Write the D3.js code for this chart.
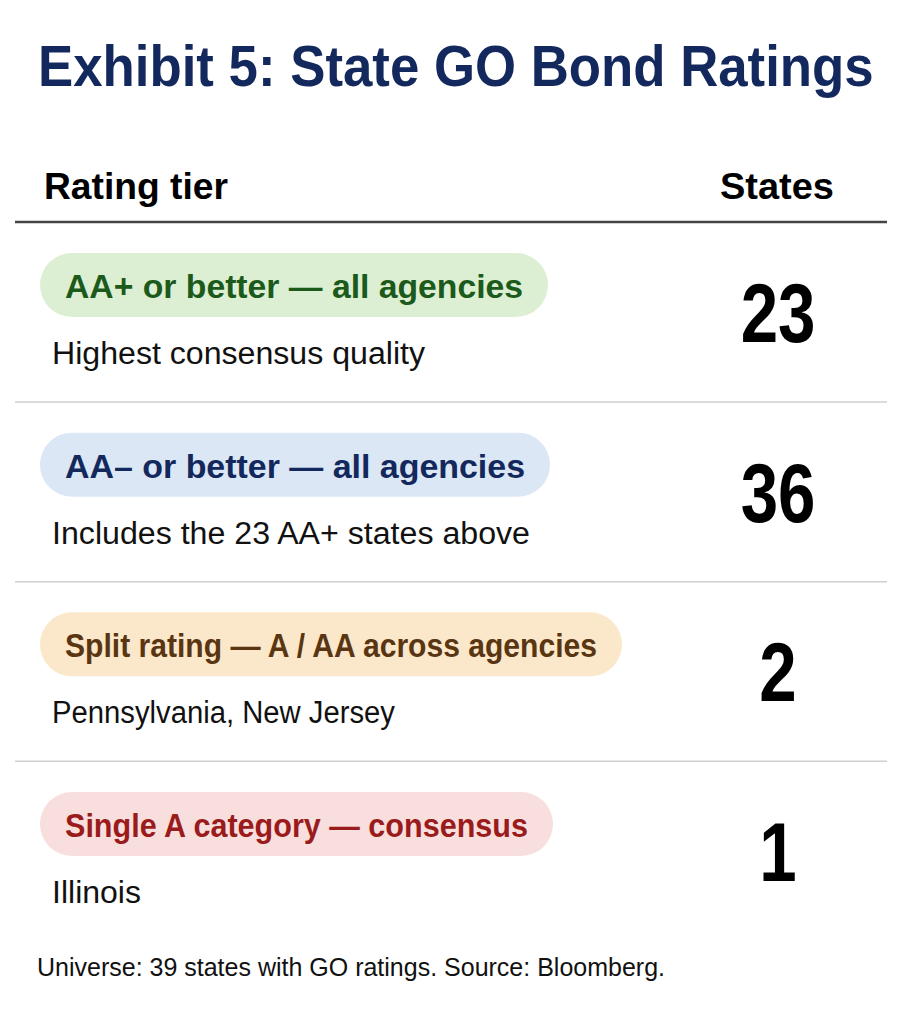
<!DOCTYPE html>
<html>
<head>
<meta charset="utf-8">
<script src="https://cdn.jsdelivr.net/npm/d3@7"></script>
<style>
  html, body { margin: 0; padding: 0; background: #fff; }
  svg { display: block; font-family: "Liberation Sans", Arial, sans-serif; }
</style>
</head>
<body>
<svg id="chart" width="901" height="1024"></svg>
<script>
// data
const tiers = [
    "AA+ or better \u2014 all agencies",
    "AA\u2013 or better \u2014 all agencies",
    "Split rating \u2014 A / AA across agencies",
    "Single A category \u2014 consensus"
];
const notes = [
    "Highest consensus quality",
    "Includes the 23 AA+ states above",
    "Pennsylvania, New Jersey",
    "Illinois"
];
const counts = [23, 36, 2, 1];
const headers = ["Rating tier", "States"];
const title = "Exhibit 5: State GO Bond Ratings";
const footnote = "Universe: 39 states with GO ratings. Source: Bloomberg.";

// look of each tier pill
const pillFill = ["#dcefd3", "#dbe7f5", "#fbe8ca", "#f9dede"];
const pillText = ["#1c5a1c", "#13285c", "#5a3512", "#991b1b"];
// measured text widths (layout only)
const tierWidths = [458, 460, 532, 463];
const noteWidths = [373, 478, 343, 89];

const svg = d3.select("#chart");

const y = d3.scaleLinear().domain([0, tiers.length - 1]).range([253, 792]);
const numX = 778;

// title: squeeze horizontally to the reference width
const titleText = svg.append("text")
    .attr("x", 0).attr("y", 0)
    .style("font-size", "58px").style("font-weight", "bold")
    .style("fill", "#13285c")
    .text(title);
const tw = titleText.node().getComputedTextLength();
titleText.attr("transform", `translate(38,86) scale(${836 / tw},1)`);

svg.append("text")
    .attr("x", 44).attr("y", 199)
    .attr("textLength", 184).attr("lengthAdjust", "spacingAndGlyphs")
    .style("font-size", "37px").style("font-weight", "bold")
    .text(headers[0]);

svg.append("text")
    .attr("x", 834).attr("y", 199)
    .attr("text-anchor", "end")
    .attr("textLength", 114).attr("lengthAdjust", "spacingAndGlyphs")
    .style("font-size", "37px").style("font-weight", "bold")
    .text(headers[1]);

svg.append("line")
    .attr("x1", 15).attr("x2", 887)
    .attr("y1", 222).attr("y2", 222)
    .style("stroke", "#444").style("stroke-width", 2.5);

const rows = svg.append("g")
    .selectAll("g")
    .data(tiers)
    .enter().append("g")
    .attr("transform", (d, i) => `translate(0,${y(i)})`);

rows.append("rect")
    .attr("x", 40).attr("y", 0)
    .attr("width", (d, i) => tierWidths[i] + 50)
    .attr("height", 64)
    .attr("rx", 32).attr("ry", 32)
    .style("fill", (d, i) => pillFill[i]);

rows.append("text")
    .attr("x", 65).attr("y", 45)
    .attr("textLength", (d, i) => tierWidths[i])
    .attr("lengthAdjust", "spacingAndGlyphs")
    .style("font-size", "34px").style("font-weight", "bold")
    .style("fill", (d, i) => pillText[i])
    .text(d => d);

rows.append("text")
    .attr("x", 52).attr("y", 111)
    .attr("textLength", (d, i) => noteWidths[i])
    .attr("lengthAdjust", "spacingAndGlyphs")
    .style("font-size", "31px")
    .style("fill", "#111")
    .text((d, i) => notes[i]);

rows.append("text")
    .attr("transform", `translate(${numX},89) scale(0.8,1)`)
    .attr("text-anchor", "middle")
    .style("font-size", "84px").style("font-weight", "bold")
    .style("fill", "#000")
    .text((d, i) => counts[i]);

// thin dividers between tiers
rows.filter((d, i) => i < tiers.length - 1)
    .append("line")
    .attr("x1", 15).attr("x2", 887)
    .attr("y1", 149).attr("y2", 149)
    .style("stroke", "#cfcfcf").style("stroke-width", 1.5);

svg.append("text")
    .attr("x", 37).attr("y", 976)
    .attr("textLength", 628).attr("lengthAdjust", "spacingAndGlyphs")
    .style("font-size", "25px")
    .style("fill", "#111")
    .text(footnote);
</script>
</body>
</html>
